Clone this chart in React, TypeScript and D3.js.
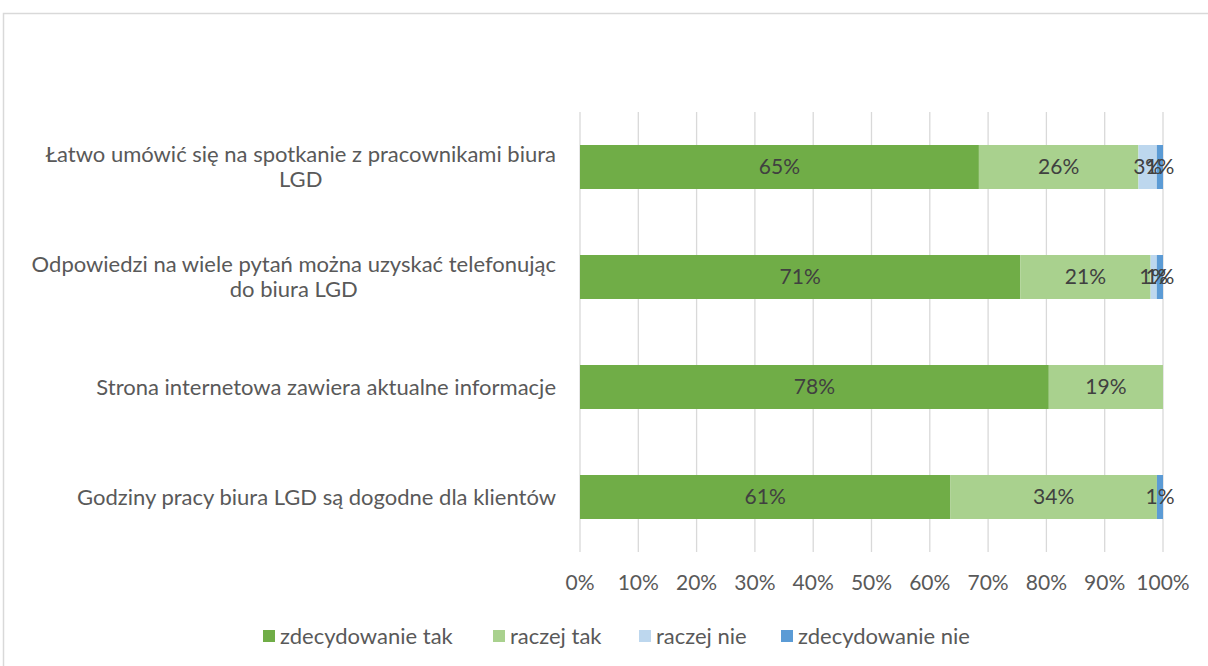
import React, { useEffect, useRef } from 'react';
import * as d3 from 'd3';

const categoryLines: string[][] = [
  ['Łatwo umówić się na spotkanie z pracownikami biura', 'LGD'],
  ['Odpowiedzi na wiele pytań można uzyskać telefonując', 'do biura LGD'],
  ['Strona internetowa zawiera aktualne informacje'],
  ['Godziny pracy biura LGD są dogodne dla klientów'],
];
const categories = categoryLines.map((l) => l.join(' '));
const seriesNames = ['zdecydowanie tak', 'raczej tak', 'raczej nie', 'zdecydowanie nie'];
const zdecydowanieTak = [65, 71, 78, 61];
const raczejTak = [26, 21, 19, 34];
const raczejNie = [3, 1, 0, 0];
const zdecydowanieNie = [1, 1, 0, 1];
const tickValues = [0, 0.1, 0.2, 0.3, 0.4, 0.5, 0.6, 0.7, 0.8, 0.9, 1];
const colors = ['#70AD47', '#A9D18E', '#BDD7EE', '#5B9BD5'];

const FONT = "Lato, 'Open Sans', 'Noto Sans', sans-serif";
const TXT = 22;
const NUM = 21;

export default function App() {
  const ref = useRef<SVGSVGElement>(null);
  useEffect(() => {
    const svg = d3.select(ref.current);
    svg.selectAll('*').remove();
    const W = 1208, H = 666;
    svg.append('rect').attr('x', 0).attr('y', 0).attr('width', W).attr('height', H).attr('fill', '#fff');
    svg.append('rect').attr('x', 3.5).attr('y', 13.5).attr('width', 1220).attr('height', 700)
      .attr('fill', 'none').attr('stroke', '#d9d9d9').attr('stroke-width', 1.5);

    const x = d3.scaleLinear().domain([0, 1]).range([580, 1163]);
    const y = d3.scaleBand<string>().domain(categories).range([112, 552]).paddingInner(0.6).paddingOuter(0.3);

    const rows = categories.map((c, i) => ({
      cat: c,
      vals: [zdecydowanieTak[i], raczejTak[i], raczejNie[i], zdecydowanieNie[i]],
    }));

    // gridlines + tick labels
    const g = svg.append('g');
    tickValues.forEach((t) => {
      g.append('line').attr('x1', x(t)).attr('x2', x(t)).attr('y1', 112).attr('y2', 552)
        .attr('stroke', '#d9d9d9').attr('stroke-width', 1.3);
      g.append('text').attr('x', x(t)).attr('y', 583).attr('dy', '0.35em').attr('text-anchor', 'middle')
        .attr('font-family', FONT).attr('font-size', NUM).attr('fill', '#595959')
        .text(d3.format('.0%')(t));
    });

    // bars
    rows.forEach((r) => {
      const total = d3.sum(r.vals);
      let acc = 0;
      const y0 = y(r.cat)!;
      const bh = y.bandwidth();
      r.vals.forEach((v, si) => {
        const a = acc / total;
        acc += v;
        const b = acc / total;
        if (v <= 0) return;
        svg.append('rect').attr('x', x(a)).attr('y', y0).attr('width', x(b) - x(a)).attr('height', bh)
          .attr('fill', colors[si]);
      });
      acc = 0;
      r.vals.forEach((v) => {
        const a = acc / total;
        acc += v;
        const b = acc / total;
        if (v <= 0) return;
        svg.append('text').attr('x', (x(a) + x(b)) / 2).attr('y', y0 + bh / 2)
          .attr('dy', '0.35em').attr('text-anchor', 'middle')
          .attr('font-family', FONT).attr('font-size', NUM).attr('fill', '#404040')
          .text(v + '%');
      });
    });

    // category labels
    const right = 556;
    const lh = 25;
    categoryLines.forEach((lines, i) => {
      const cy = y(categories[i])! + y.bandwidth() / 2;
      const startY = cy - ((lines.length - 1) * lh) / 2;
      const first = svg.append('text').attr('x', right).attr('y', startY).attr('dy', '0.35em')
        .attr('text-anchor', 'end').attr('font-family', FONT).attr('font-size', TXT).attr('fill', '#595959')
        .text(lines[0]);
      const w = (first.node() as SVGTextElement).getComputedTextLength();
      const center = right - w / 2;
      lines.slice(1).forEach((ln, k) => {
        svg.append('text').attr('x', center).attr('y', startY + (k + 1) * lh).attr('dy', '0.35em')
          .attr('text-anchor', 'middle').attr('font-family', FONT).attr('font-size', TXT).attr('fill', '#595959')
          .text(ln);
      });
    });

    // legend
    const legX = [263, 493, 639, 781];
    seriesNames.forEach((n, i) => {
      svg.append('rect').attr('x', legX[i]).attr('y', 630).attr('width', 12).attr('height', 12).attr('fill', colors[i]);
      svg.append('text').attr('x', legX[i] + 17).attr('y', 636).attr('dy', '0.35em')
        .attr('font-family', FONT).attr('font-size', TXT).attr('fill', '#595959').text(n);
    });
  }, []);
  return (
    <svg ref={ref} width={1208} height={666} style={{ position: 'absolute', left: 0, top: 0, display: 'block' }} />
  );
}
